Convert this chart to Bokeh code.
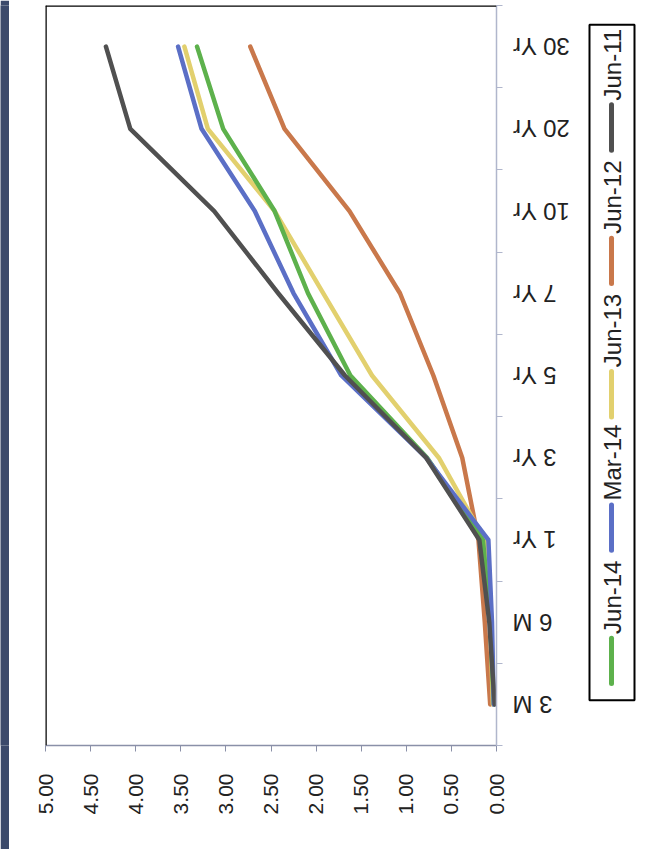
import math
from bokeh.plotting import figure
from bokeh.layouts import row
from bokeh.models import (Range1d, FixedTicker, NumeralTickFormatter, Span, ColumnDataSource)
from bokeh.core.properties import value
from bokeh.embed import file_html
from bokeh.resources import INLINE

# ---- data ----
tenors = ["3 M", "6 M", "1 Yr", "3 Yr", "5 Yr", "7 Yr", "10 Yr", "20 Yr", "30 Yr"]
jun_11 = [0.02, 0.08, 0.19, 0.78, 1.68, 2.42, 3.13, 4.06, 4.33]
jun_12 = [0.07, 0.13, 0.20, 0.38, 0.70, 1.07, 1.63, 2.35, 2.73]
jun_13 = [0.04, 0.07, 0.13, 0.64, 1.38, 1.92, 2.46, 3.20, 3.46]
mar_14 = [0.03, 0.05, 0.09, 0.78, 1.72, 2.25, 2.68, 3.27, 3.53]
jun_14 = [0.03, 0.07, 0.15, 0.77, 1.62, 2.09, 2.46, 3.03, 3.32]
value_ticks = [0.0, 0.5, 1.0, 1.5, 2.0, 2.5, 3.0, 3.5, 4.0, 4.5, 5.0]

series = [  # legend order, bottom to top
    ("Jun-14", jun_14, "#5db14c"),
    ("Mar-14", mar_14, "#5b6fc6"),
    ("Jun-13", jun_13, "#e2d06e"),
    ("Jun-12", jun_12, "#c9784b"),
    ("Jun-11", jun_11, "#505050"),
]
draw_order = ["Jun-12", "Jun-13", "Jun-14", "Mar-14", "Jun-11"]

FONT = "Liberation Sans"
H = 849
TOP, BOTTOM = 5, 104

# ---- left dark strip ----
strip = figure(width=9, height=H, toolbar_location=None, output_backend="svg",
               min_border=0, x_axis_type=None, y_axis_type=None,
               background_fill_color="#3c4a6b", border_fill_color="#3c4a6b",
               outline_line_color=None)
strip.xgrid.visible = False
strip.ygrid.visible = False

# ---- main chart (rotated layout) ----
n = len(tenors)
centers = [i + 0.5 for i in range(n)]
p = figure(width=497, height=H, toolbar_location=None, output_backend="svg",
           x_range=Range1d(5.0, 0.0), y_range=Range1d(0, n),
           x_axis_location="below", y_axis_location="right",
           min_border_left=36, min_border_right=10, min_border_top=TOP, min_border_bottom=BOTTOM,
           outline_line_color=None, background_fill_color="white", border_fill_color="white")
p.xgrid.visible = False
p.ygrid.visible = False

xa = p.xaxis[0]
xa.ticker = FixedTicker(ticks=value_ticks, minor_ticks=[])
xa.formatter = NumeralTickFormatter(format="0.00")
xa.major_label_orientation = math.pi / 2
xa.major_label_text_font = FONT
xa.major_label_text_font_size = "21px"
xa.major_label_text_color = "#222222"
xa.axis_line_color = "#8a90a8"
xa.axis_line_width = 1.5
xa.major_tick_line_color = "#8a90a8"
xa.major_tick_in = 0
xa.major_tick_out = 6
xa.major_label_standoff = 22

ya = p.yaxis[0]
ya.ticker = FixedTicker(ticks=[], minor_ticks=list(range(n + 1)))
ya.major_label_standoff = 0
ya.axis_line_color = "#b0b6cc"
ya.axis_line_width = 1.5
ya.major_tick_in = 0
ya.major_tick_out = 0
ya.minor_tick_in = 0
ya.minor_tick_out = 6
ya.minor_tick_line_color = "#b0b6cc"

p.add_layout(Span(location=5.0, dimension="height", line_color="black", line_width=2.5))
p.add_layout(Span(location=n, dimension="width", line_color="black", line_width=2.5))

lookup = {name: (vals, col) for name, vals, col in series}
for name in draw_order:
    vals, col = lookup[name]
    src = ColumnDataSource(dict(v=vals, y=centers, t=tenors))
    p.line("v", "y", source=src, line_color=col, line_width=4.5, line_join="round", line_cap="round")

# ---- category labels (upside-down, sharing the chart's y scale) ----
lab = figure(width=74, height=H, toolbar_location=None, output_backend="svg",
             x_range=Range1d(0, 74), y_range=p.y_range,
             min_border_left=0, min_border_right=0, min_border_top=TOP, min_border_bottom=BOTTOM,
             x_axis_type=None, y_axis_type=None, outline_line_color=None,
             background_fill_color="white", border_fill_color="white")
lab.xgrid.visible = False
lab.ygrid.visible = False
lab.text(x=[6] * n, y=centers, text=tenors, angle=math.pi,
         text_align="right", text_baseline="middle",
         text_font=value(FONT), text_font_size="24px", text_color="#222222")

# ---- legend panel (rotated) ----
leg = figure(width=79, height=H, toolbar_location=None, output_backend="svg",
             x_range=Range1d(0, 79), y_range=Range1d(0, H), min_border=0,
             x_axis_type=None, y_axis_type=None, outline_line_color=None,
             background_fill_color="white", border_fill_color="white")
leg.xgrid.visible = False
leg.ygrid.visible = False
leg.quad(left=[9], right=[54], bottom=[52], top=[827], fill_color=None,
         line_color="black", line_width=2)
pitch = 153
for i, (name, vals, col) in enumerate(series):
    y0 = 71 + pitch * i
    leg.segment(x0=[31], y0=[y0], x1=[31], y1=[y0 + 52], line_color=col, line_width=5,
                line_cap="round")
    leg.text(x=[32], y=[y0 + 57], text=[name], angle=math.pi / 2,
             text_align="left", text_baseline="middle",
             text_font=value(FONT), text_font_size="24px", text_color="#222222")

layout = row(strip, p, lab, leg, spacing=0)
open("out.html", "w").write(file_html(layout, INLINE))
